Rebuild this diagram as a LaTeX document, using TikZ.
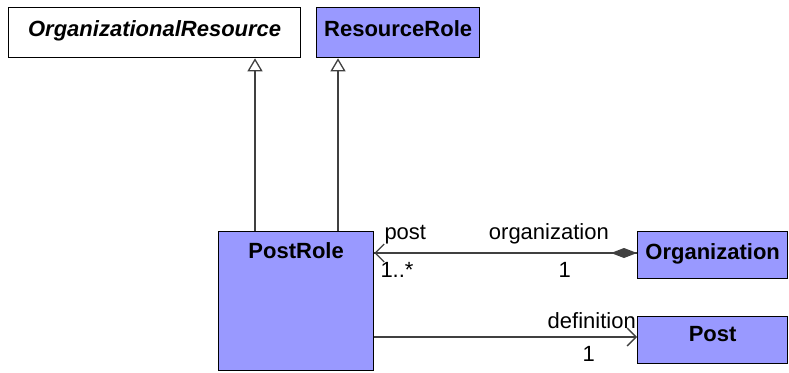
\documentclass[tikz,border=0pt]{standalone}
\usepackage{fontspec}
\setmainfont{Liberation Sans}
\usetikzlibrary{arrows.meta,calc}
\definecolor{clsfill}{HTML}{9999FF}
\definecolor{lnk}{HTML}{404040}
\begin{document}
\begin{tikzpicture}[x=1pt,y=-1pt,
  every node/.style={font=\fontsize{22}{24}\selectfont, inner sep=0pt},
  cls/.style={draw=black, line width=1.3pt, anchor=north west, fill=clsfill},
  ttl/.style={font=\fontsize{22}{24}\selectfont\bfseries, anchor=north},
  lbl/.style={font=\fontsize{22}{24}\selectfont},
  gen/.style={draw=lnk, line width=1.3pt, -{Triangle[open, length=13pt, width=15pt, fill=white]}},
  comp/.style={draw=lnk, line width=1.3pt, -{Diamond[length=26pt, width=10pt, fill=lnk]}},
  nav/.style={draw=lnk, line width=1.3pt, -{Straight Barb[length=9pt, width=18pt]}}
]
\useasboundingbox (0,0) rectangle (789,372);
% classes
\node[cls, fill=white, minimum width=292pt, minimum height=50pt] (or) at (8,7) {};
\node[ttl, font=\fontsize{22}{24}\selectfont\bfseries\itshape] at ($(or.north)+(0,13)$) {OrganizationalResource};
\node[cls, minimum width=163pt, minimum height=50pt] (rr) at (316,7) {};
\node[ttl] at ($(rr.north)+(0,13)$) {ResourceRole};
\node[cls, minimum width=155pt, minimum height=139pt] (pr) at (218,231) {};
\node[ttl] at ($(pr.north)+(0,11)$) {PostRole};
\node[cls, minimum width=150pt, minimum height=47pt] (og) at (637,231) {};
\node[ttl] at ($(og.north)+(0,12)$) {Organization};
\node[cls, minimum width=150pt, minimum height=47pt] (po) at (637,316) {};
\node[ttl] at ($(po.north)+(0,10)$) {Post};
% generalizations
\coordinate (g1s) at ($(pr.north west)+(37,0)$);
\coordinate (g1e) at (g1s |- or.south);
\coordinate (g2s) at ($(pr.north west)+(120,0)$);
\coordinate (g2e) at (g2s |- rr.south);
\draw[gen] (g1s) -- (g1e);
\draw[gen] (g2s) -- (g2e);
% composition
\coordinate (c1) at ($(pr.north east)+(0,22)$);
\coordinate (c2) at (c1 -| og.west);
\draw[nav] (c2) -- (c1);
\draw[comp] (c1) -- (c2);
% association
\coordinate (a1) at ($(pr.north east)+(0,106)$);
\coordinate (a2) at (a1 -| po.west);
\draw[nav] (a1) -- (a2);
% labels
\node[lbl, anchor=south west] (lpost) at ($(c1)+(10,-9)$) {post};
\node[lbl, anchor=north west] (lmult1) at ($(c1)+(6,9)$) {1..*};
\node[lbl, anchor=south east] (lorg) at ($(c2)+(-28,-9)$) {organization};
\node[lbl, anchor=north east] (lone1) at ($(c2)+(-66,9)$) {1};
\node[lbl, anchor=south east] (ldef) at ($(a2)+(-1,-8)$) {definition};
\node[lbl, anchor=north east] (lone2) at ($(a2)+(-42,9)$) {1};
\end{tikzpicture}
\end{document}
